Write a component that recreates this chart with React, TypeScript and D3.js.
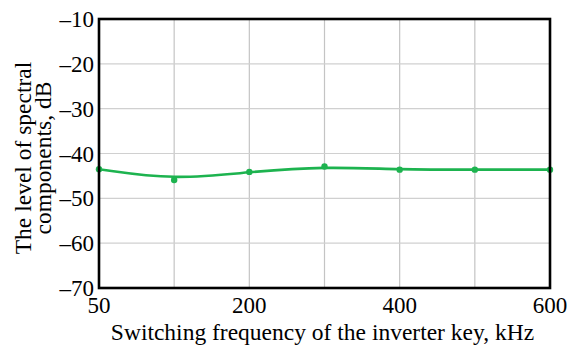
import React from "react";
import * as d3 from "d3";

// Switching frequency categories (kHz) and measured spectral level (dB)
const frequencies = ["50", "100", "200", "300", "400", "500", "600"];
const levels = [-43.5, -45.9, -44.1, -42.9, -43.6, -43.6, -43.6];
const labeledTicks = ["50", "200", "400", "600"];
const yTicks = [-10, -20, -30, -40, -50, -60, -70];

const W = 570;
const H = 347;
const margin = { left: 99, right: 20, top: 19, bottom: 59 };
const green = "#1db34f";
const font = "'Liberation Serif', serif";

export default function App() {
  const x = d3
    .scalePoint<string>()
    .domain(frequencies)
    .range([margin.left, W - margin.right]);
  const y = d3
    .scaleLinear()
    .domain([-70, -10])
    .range([H - margin.bottom, margin.top]);

  const line = d3
    .line<number>()
    .x((_, i) => x(frequencies[i]) as number)
    .y((d) => y(d))
    .curve(d3.curveBasis);

  const x0 = margin.left;
  const x1 = W - margin.right;
  const y0 = margin.top;
  const y1 = H - margin.bottom;

  return (
    <svg
      width={W}
      height={H}
      style={{ position: "absolute", left: 0, top: 0, background: "#fff" }}
    >
      {/* grid */}
      {frequencies.slice(1, -1).map((f) => (
        <line
          key={"gx" + f}
          x1={x(f)}
          x2={x(f)}
          y1={y0}
          y2={y1}
          stroke="#c4c4c4"
          strokeWidth={1.2}
        />
      ))}
      {yTicks.slice(1, -1).map((t) => (
        <line
          key={"gy" + t}
          x1={x0}
          x2={x1}
          y1={y(t)}
          y2={y(t)}
          stroke="#d0d0d0"
          strokeWidth={1.2}
        />
      ))}

      {/* data */}
      <path d={line(levels) ?? ""} fill="none" stroke={green} strokeWidth={2.6} />
      {levels.map((v, i) => (
        <circle key={i} cx={x(frequencies[i])} cy={y(v)} r={3.2} fill={green} />
      ))}

      {/* frame */}
      <rect
        x={x0}
        y={y0}
        width={x1 - x0}
        height={y1 - y0}
        fill="none"
        stroke="#000"
        strokeWidth={2.6}
      />

      {/* y ticks */}
      {yTicks.map((t) => (
        <text
          key={"yt" + t}
          x={x0 - 5}
          y={y(t)}
          dy="0.35em"
          textAnchor="end"
          fontSize={23}
          fontFamily={font}
          fill="#000"
        >
          {"\u2013" + Math.abs(t)}
        </text>
      ))}

      {/* x ticks */}
      {labeledTicks.map((t) => (
        <text
          key={"xt" + t}
          x={x(t)}
          y={y1 + 25}
          textAnchor="middle"
          fontSize={23}
          fontFamily={font}
          fill="#000"
        >
          {t}
        </text>
      ))}

      {/* axis titles */}
      <text
        x={(x0 + x1) / 2 - 2}
        y={H - 7}
        textAnchor="middle"
        fontSize={23.5}
        fontFamily={font}
        fill="#000"
      >
        Switching frequency of the inverter key, kHz
      </text>
      <g transform={`translate(31, 158) rotate(-90)`}>
        <text x={0} y={0} textAnchor="middle" fontSize={23.5} fontFamily={font} fill="#000">
          The level of spectral
        </text>
        <text x={0} y={20} textAnchor="middle" fontSize={23.5} fontFamily={font} fill="#000">
          components, dB
        </text>
      </g>
    </svg>
  );
}
